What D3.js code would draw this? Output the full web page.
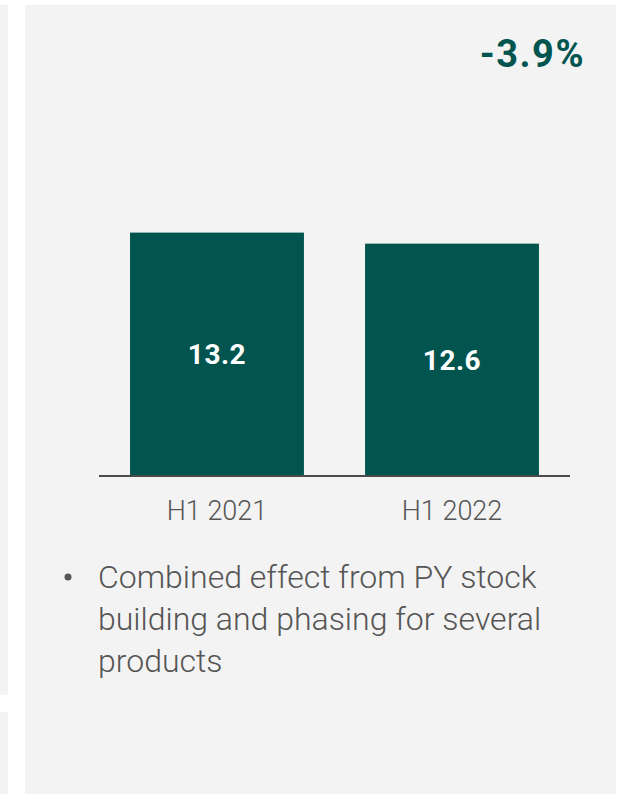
<!DOCTYPE html>
<html>
<head>
<meta charset="utf-8">
<script src="https://cdn.jsdelivr.net/npm/d3@7"></script>
<style>
  html, body { margin: 0; padding: 0; background: #ffffff; }
  svg { display: block; font-family: Roboto, "Noto Sans", sans-serif; }
</style>
</head>
<body>
<svg id="chart" width="626" height="794"></svg>
<script>
// Half-year values (bn)
const categories = ["H1 2021", "H1 2022"];
const values = [13.2, 12.6];
const changeLabel = "-3.9%";
const bulletLines = [
  "Combined effect from PY stock",
  "building and phasing for several",
  "products"
];

const svg = d3.select("#chart");
const green = "#02554f";
const grey = "#555555";

// Panel backgrounds
svg.append("rect").attr("x", 0).attr("y", 5).attr("width", 8).attr("height", 690).attr("fill", "#f3f3f3");
svg.append("rect").attr("x", 0).attr("y", 712).attr("width", 8).attr("height", 82).attr("fill", "#f3f3f3");
svg.append("rect").attr("x", 25).attr("y", 5).attr("width", 591).attr("height", 789).attr("fill", "#f3f3f3");

// Scales
const baseY = 476;
const x = d3.scaleBand().domain(categories).range([99, 570]).paddingInner(0.26).paddingOuter(0.132);
const y = d3.scaleLinear().domain([0, 14]).range([baseY, baseY - 14 * 18.44]);

// Bars
svg.append("g").selectAll("rect").data(values).join("rect")
  .attr("x", (d, i) => x(categories[i]))
  .attr("y", d => y(d))
  .attr("width", x.bandwidth())
  .attr("height", d => baseY - y(d))
  .attr("fill", green);

// Value labels, centred inside each bar
svg.append("g").selectAll("text").data(values).join("text")
  .attr("x", (d, i) => x(categories[i]) + x.bandwidth() / 2)
  .attr("y", d => (y(d) + baseY) / 2 + 10)
  .attr("text-anchor", "middle")
  .attr("fill", "#ffffff")
  .attr("font-size", 28)
  .attr("font-weight", 700)
  .attr("letter-spacing", 0.5)
  .text(d => d.toFixed(1));

// Category axis
const axis = svg.append("g").attr("transform", `translate(0,${baseY})`)
  .call(d3.axisBottom(x).tickSize(0).tickPadding(25));
axis.select(".domain").attr("stroke", "#4a4a4a").attr("stroke-width", 2)
  .attr("d", "M99,0H570");
axis.selectAll(".tick text")
  .attr("font-size", 27)
  .attr("font-weight", 300)
  .attr("fill", grey)
  .attr("font-family", "Roboto, sans-serif");

// Change headline
svg.append("text")
  .attr("x", 585).attr("y", 67)
  .attr("text-anchor", "end")
  .attr("fill", green)
  .attr("font-size", 38)
  .attr("font-weight", 700)
  .attr("letter-spacing", 1.5)
  .text(changeLabel);

// Bullet comment
svg.append("circle").attr("cx", 68).attr("cy", 577).attr("r", 3.5).attr("fill", grey);
svg.append("g").selectAll("text").data(bulletLines).join("text")
  .attr("x", 98)
  .attr("y", (d, i) => 588 + i * 42)
  .attr("fill", grey)
  .attr("font-size", 32)
  .attr("font-weight", 300)
  .text(d => d);
</script>
</body>
</html>
